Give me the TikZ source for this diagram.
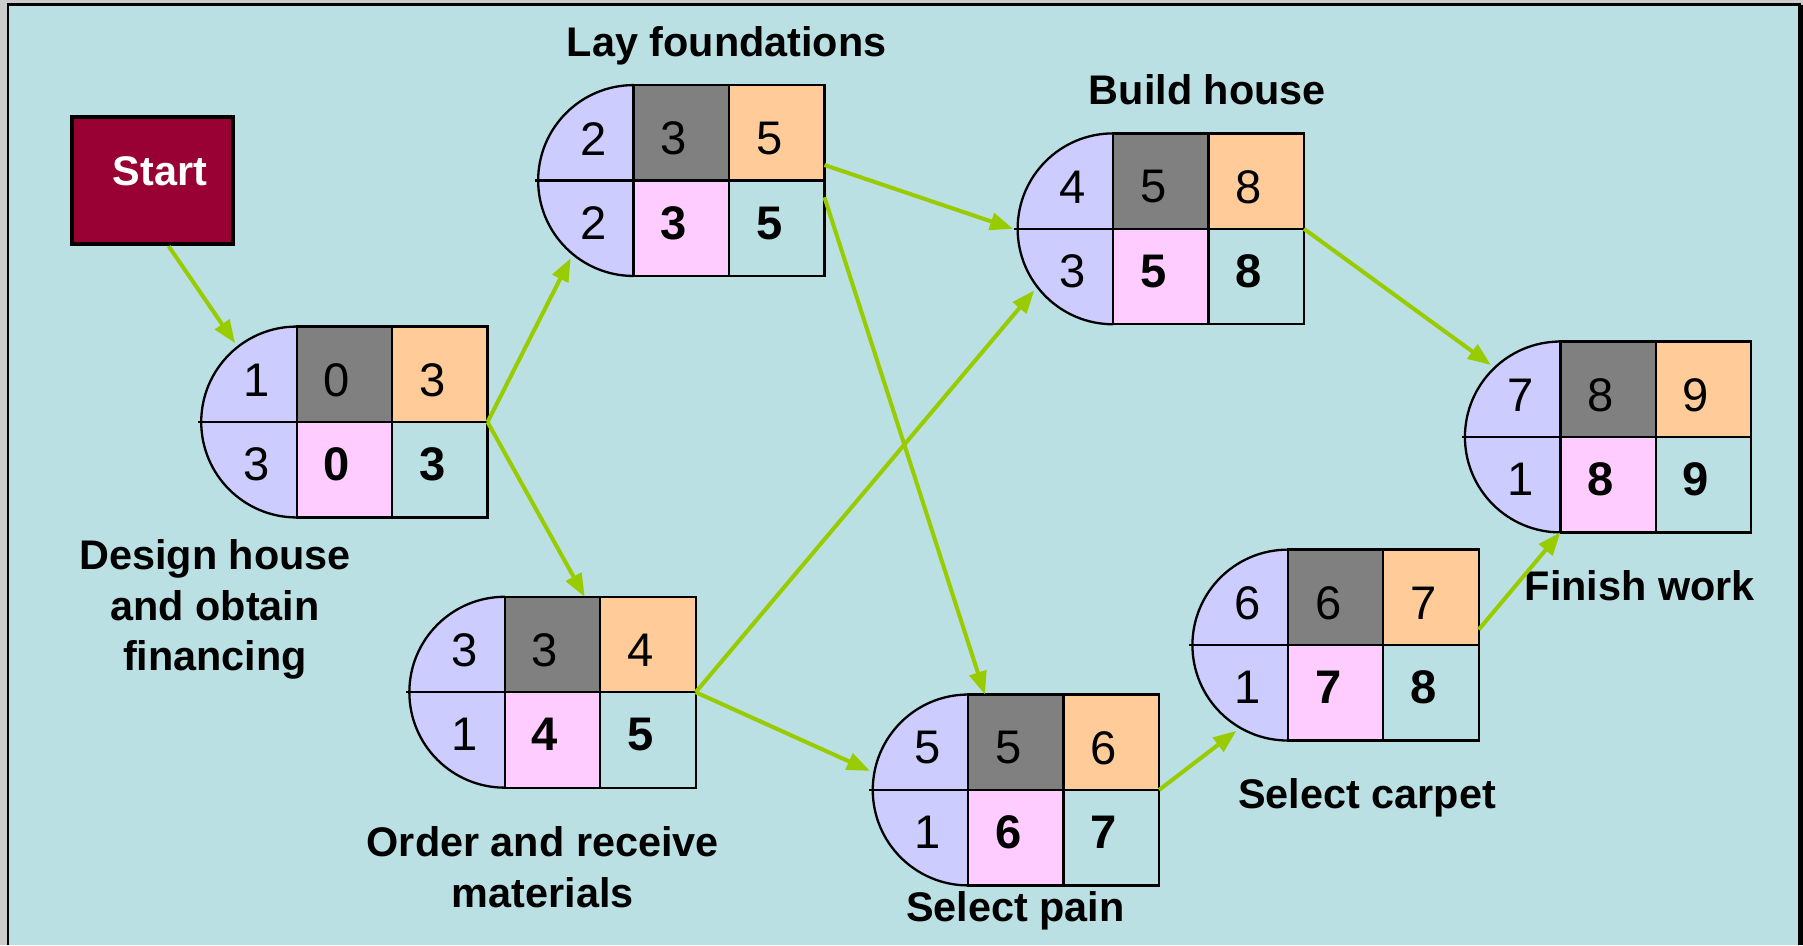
\documentclass[tikz,border=0pt]{standalone}
\usepackage{fontspec}
\setmainfont{Liberation Sans}
\usetikzlibrary{calc,positioning,arrows.meta}
\definecolor{bgblue}{RGB}{186,224,227}
\definecolor{lav}{RGB}{204,204,255}
\definecolor{esgray}{RGB}{128,128,128}
\definecolor{eforange}{RGB}{255,204,153}
\definecolor{lspink}{RGB}{255,204,255}
\definecolor{startred}{RGB}{153,0,51}
\definecolor{arrgreen}{RGB}{153,204,0}
\tikzset{cell/.style = {draw, line width=2pt, minimum width=83pt, minimum height=83pt, inner sep=0, outer sep=0},
  ring/.style = {circle, minimum size=174pt, inner sep=0, outer sep=0},
  num/.style = {font=\fontsize{41}{44}\selectfont, inner sep=0},
  bnum/.style = {font=\fontsize{41}{44}\selectfont\bfseries, inner sep=0},
  lbl/.style = {font=\fontsize{36}{44}\selectfont\bfseries, align=center, inner sep=0},
  arr/.style = {arrgreen, line width=3.5pt, -{Triangle[length=20pt,width=15pt]}}}
% name, (cell corner), id, es, ef, duration, ls, lf
\newcommand{\pert}[8]{%
  \fill [lav] ($#2+(0,83)$) arc [start angle=90, end angle=270, radius=83pt] -- cycle;
  \draw [line width=2pt] ($#2+(0,83)$) arc [start angle=90, end angle=270, radius=83pt];
  \draw [line width=2pt] ($#2+(-86,0)$) -- #2;
  \node [ring] (#1) at #2 {};
  \node [cell, fill=esgray, anchor=south west] (#1-es) at #2 {};
  \node [cell, fill=eforange, right=0pt of #1-es] (#1-ef) {};
  \node [cell, fill=lspink, anchor=north west] (#1-ls) at #2 {};
  \node [cell, right=0pt of #1-ls] (#1-lf) {};
  \node [num] (#1-id) at ($#2+(-35,36.5)$) {#3};
  \node [num] (#1-esn) at ($#2+(35,36.5)$) {#4};
  \node [num] (#1-efn) at ($#2+(118,36.5)$) {#5};
  \node [num] (#1-du) at ($#2+(-35,-37)$) {#6};
  \node [bnum] (#1-lsn) at ($#2+(35,-37)$) {#7};
  \node [bnum] (#1-lfn) at ($#2+(118,-37)$) {#8};
}

\begin{document}
\begin{tikzpicture}[x=1pt, y=1pt]
  \useasboundingbox (0,0) rectangle (1568,-822);
  \fill [black!20] (0,0) rectangle (1568,-822);
  \fill [bgblue] (7,-4) rectangle (1566,-822);
  \draw [line width=2.3pt] (7,-822) -- (7,-4) -- (1566,-4);
  \draw [line width=4pt] (1566,-4) -- (1566,-822);

  \node [draw, line width=3.5pt, fill=startred, minimum width=140pt, minimum height=111pt] (start) at (132.5,-157) {};
  \node [font=\fontsize{36}{40}\selectfont\bfseries, text=white, inner sep=0, anchor=base] (start-t) at (139,-161) {Start};

  \pert{n1}{(258,-367)}{1}{0}{3}{3}{0}{3}
  \pert{n2}{(551,-157)}{2}{3}{5}{2}{3}{5}
  \pert{n3}{(968,-199)}{4}{5}{8}{3}{5}{8}
  \pert{n4}{(1357,-380)}{7}{8}{9}{1}{8}{9}
  \pert{n5}{(439,-602)}{3}{3}{4}{1}{4}{5}
  \pert{n6}{(842,-687)}{5}{5}{6}{1}{6}{7}
  \pert{n7}{(1120,-561)}{6}{6}{7}{1}{7}{8}

  \node [lbl] (design) at (187,-530) {Design house\\and obtain\\financing};
  \node [lbl, anchor=base] (found) at (632,-49) {Lay foundations};
  \node [lbl, anchor=base] (build) at (1050,-91) {Build house};
  \node [lbl, anchor=base] (finish) at (1426,-522) {Finish work};
  \node [lbl] (order) at (472,-754) {Order and receive\\materials};
  \node [lbl, anchor=base] (paint) at (883,-801) {Select pain};
  \node [lbl, anchor=base] (carpet) at (1189,-703) {Select carpet};

  \draw [arr] (start.-76) -- (n1.128);
  \draw [arr] (n1-ef.south east) -- (n2.231);
  \draw [arr] (n1-ef.south east) -- (n5-es.56);
  \draw [arr] (n2-ef.-34) -- (n3.180);
  \draw [arr] (n2-lf.33) -- (n6-es.123);
  \draw [arr] (n5-ef.south east) -- (n3.218);
  \draw [arr] (n5-ef.south east) -- (n6.169);
  \draw [arr] (n3-ef.south east) -- (n4.134);
  \draw [arr] (n6-ef.south east) -- (n7.239);
  \draw [arr] (n7-ef.-34) -- (n4-ls.south west);
\end{tikzpicture}
\end{document}
